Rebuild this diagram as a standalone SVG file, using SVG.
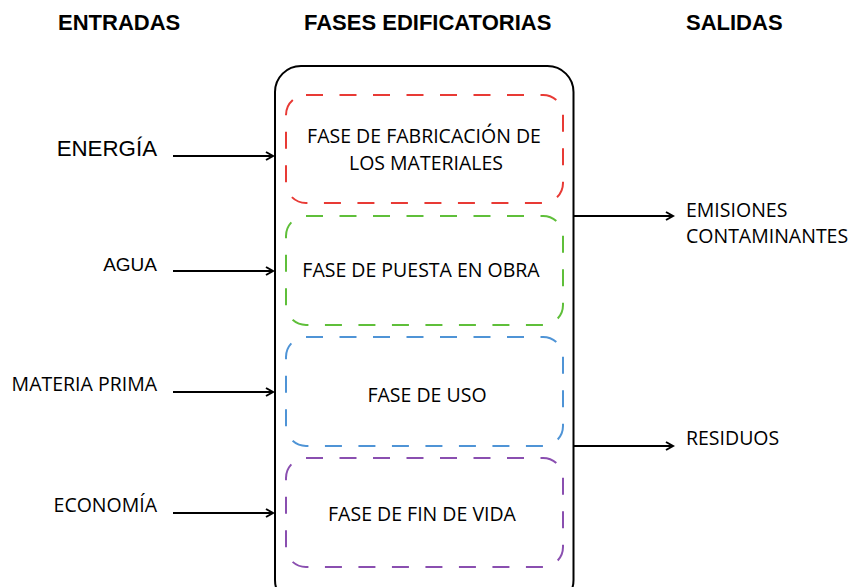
<svg xmlns="http://www.w3.org/2000/svg" width="851" height="587" viewBox="0 0 851 587">
<style>
.hdr{font-family:"Liberation Sans",Arial,sans-serif;font-weight:bold;font-size:22px;fill:#000}
.ar{font-family:"Liberation Sans",Arial,sans-serif;fill:#000}
.lbl{font-family:"Open Sans","Noto Sans",sans-serif;font-size:19.5px;fill:#000}
.ph{fill:none;stroke-width:2;stroke-dasharray:17 16.5}
.cn{stroke:#000;stroke-width:2;fill:none;marker-end:url(#ah)}
</style>
<defs>
<marker id="ah" viewBox="0 0 10 10" refX="8" refY="5" markerWidth="5" markerHeight="5" orient="auto" markerUnits="strokeWidth">
<path d="M1,1 L8,5 L1,9" fill="none" stroke="#000" stroke-width="2"/>
</marker>
</defs>
<rect width="851" height="587" fill="#fff"/>
<g id="headers">
<text class="hdr" x="58" y="30">ENTRADAS</text>
<text class="hdr" x="304" y="30">FASES EDIFICATORIAS</text>
<text class="hdr" x="686" y="30">SALIDAS</text>
</g>
<g id="container"><rect x="275" y="66" width="298.5" height="540" rx="26" fill="none" stroke="#000" stroke-width="2"/></g>
<g id="fabricacion">
<rect class="ph" x="286" y="95" width="277" height="108" rx="20" stroke="#e83a35"/>
<text class="lbl" x="424" y="143" text-anchor="middle">FASE DE FABRICACIÓN DE</text>
<text class="lbl" x="426" y="170" text-anchor="middle">LOS MATERIALES</text>
</g>
<g id="puesta">
<rect class="ph" x="286" y="216" width="277" height="109" rx="20" stroke="#5fbf3a"/>
<text class="lbl" x="421" y="277" text-anchor="middle">FASE DE PUESTA EN OBRA</text>
</g>
<g id="uso">
<rect class="ph" x="286" y="337" width="277" height="109" rx="20" stroke="#4f94d6"/>
<text class="lbl" x="427" y="402" text-anchor="middle">FASE DE USO</text>
</g>
<g id="fin">
<rect class="ph" x="286" y="458" width="277" height="109" rx="20" stroke="#8a4fb0"/>
<text class="lbl" x="422" y="521" text-anchor="middle">FASE DE FIN DE VIDA</text>
</g>
<g id="in-energia"><text class="ar" x="157" y="156" font-size="22.3" text-anchor="end">ENERGÍA</text></g>
<g id="in-agua"><text class="ar" x="157" y="271" font-size="19" text-anchor="end">AGUA</text></g>
<g id="in-materia"><text class="lbl" x="157" y="391" text-anchor="end">MATERIA PRIMA</text></g>
<g id="in-economia"><text class="lbl" x="157" y="512" text-anchor="end">ECONOMÍA</text></g>
<g id="out-emisiones">
<text class="lbl" x="686" y="217">EMISIONES</text>
<text class="lbl" x="686" y="243">CONTAMINANTES</text>
</g>
<g id="out-residuos"><text class="lbl" x="686" y="445">RESIDUOS</text></g>
<g id="connectors">
<line class="cn" x1="173" y1="156" x2="273" y2="156"/>
<line class="cn" x1="173" y1="271" x2="273" y2="271"/>
<line class="cn" x1="173" y1="392" x2="273" y2="392"/>
<line class="cn" x1="173" y1="513" x2="273" y2="513"/>
<line class="cn" x1="574" y1="216" x2="673" y2="216"/>
<line class="cn" x1="574" y1="446" x2="673" y2="446"/>
</g>
</svg>
